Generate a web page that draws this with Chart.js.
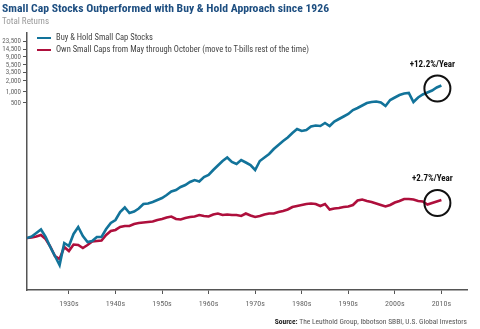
<!DOCTYPE html>
<html>
<head>
<meta charset="utf-8">
<script src="https://cdn.jsdelivr.net/npm/chart.js@4.4.1/dist/chart.umd.min.js"></script>
<style>
  body { margin: 0; width: 480px; height: 329px; position: relative; overflow: hidden; background: #fff;
         font-family: 'Liberation Sans Narrow', 'Roboto Condensed', 'Arial Narrow', 'Liberation Sans', sans-serif; }
  #wrap { position: absolute; left: 0; top: 0; width: 480px; height: 329px; }
  .title { position: absolute; left: 2px; top: 1px; font-weight: bold; font-size: 11.7px; color: #1d4e80; white-space: nowrap; }
  .subtitle { position: absolute; left: 2px; top: 16px; font-size: 9px; color: #9a9a9a; white-space: nowrap; }
  .legend { position: absolute; left: 37px; font-size: 8.5px; color: #444; white-space: nowrap; }
  .legend i { display: inline-block; width: 14px; height: 2px; vertical-align: middle; margin-right: 5px; }
  .source { position: absolute; right: 13px; top: 317px; font-size: 7.5px; color: #555; white-space: nowrap; }
  .source b { color: #222; }
</style>
</head>
<body>
<div id="wrap"><canvas id="chart"></canvas></div>
<div class="title">Small Cap Stocks Outperformed with Buy &amp; Hold Approach since 1926</div>
<div class="subtitle">Total Returns</div>
<div class="legend" id="leg1" style="top:32px"></div>
<div class="legend" id="leg2" style="top:44px"></div>
<div class="source"><b>Source:</b> The Leuthold Group, Ibbotson SBBI, U.S. Global Investors</div>
<script>
// x values as placed on the chart's decade axis
const years = [];
for (let y = 1921; y <= 2010; y++) years.push(y);

// growth of $1
const buyHold = [
  1.00, 1.10, 1.37, 1.71, 1.07, 0.567, 0.322, 0.182, 0.73, 0.604,
  1.29, 2.00, 1.13, 0.777, 0.828, 1.07, 1.07, 1.76, 2.57, 3.11,
  5.14, 6.83, 4.83, 5.31, 6.41, 8.52, 8.79, 9.66, 10.96, 12.43,
  15.0, 18.7, 20.6, 24.9, 28.2, 34.1, 38.6, 35.2, 46.7, 52.9,
  72.5, 96.3, 127.9, 159.4, 120.1, 105.9, 136.2, 116.4, 99.4, 72.5,
  127.9, 159.4, 198.7, 272, 350, 451, 562, 746, 960, 846,
  901, 1123, 1196, 1159, 1401, 1159, 1540, 1802, 2109, 2469,
  3176, 3604, 4218, 4937, 5258, 5426, 5094, 4088, 5962, 6978,
  8170, 8979, 9267, 5258, 6978, 8431, 9563, 10850, 13100, 14860
];
const mayOct = [
  1.00, 1.03, 1.10, 1.21, 0.94, 0.585, 0.322, 0.266, 0.567, 0.441,
  0.664, 0.643, 0.533, 0.643, 0.802, 0.828, 0.854, 1.21, 1.55, 1.66,
  2.00, 2.13, 2.13, 2.42, 2.57, 2.66, 2.74, 2.83, 3.11, 3.31,
  3.64, 3.87, 3.31, 3.21, 3.53, 3.75, 3.87, 4.26, 4.00, 3.87,
  4.40, 4.68, 4.26, 4.40, 4.26, 4.26, 4.00, 4.68, 4.13, 3.75,
  4.00, 4.40, 4.68, 4.68, 5.14, 5.48, 6.02, 7.05, 7.51, 8.00,
  8.52, 8.79, 8.52, 7.51, 8.52, 6.02, 6.41, 6.62, 7.05, 7.28,
  8.00, 10.62, 11.31, 10.29, 9.66, 8.79, 8.00, 7.28, 8.00, 9.36,
  10.29, 11.67, 11.67, 11.31, 10.29, 9.97, 8.25, 9.07, 9.97, 10.96
];

const seriesNames = ['Buy & Hold Small Cap Stocks', 'Own Small Caps from May through October (move to T-bills rest of the time)'];
const seriesColors = ['#12739a', '#ae0f3c'];
const endLabels = ['+12.2%/Year', '+2.7%/Year'];

const yTickValues = [23500, 14500, 9000, 5500, 3500, 2000, 1000, 500];
const decadeTicks = [1930, 1940, 1950, 1960, 1970, 1980, 1990, 2000, 2010];

const FONT = "'Liberation Sans Narrow', 'Roboto Condensed', 'Arial Narrow', 'Liberation Sans', sans-serif";

['leg1', 'leg2'].forEach((id, i) => {
  document.getElementById(id).innerHTML = `<i style="background:${seriesColors[i]}"></i>${seriesNames[i].replace(/&/g, '&amp;')}`;
});

// circles and growth-rate labels at the end of each line
const endMarks = {
  id: 'endMarks',
  afterDatasetsDraw(chart) {
    const ctx = chart.ctx;
    chart.data.datasets.forEach((ds, i) => {
      const pts = chart.getDatasetMeta(i).data;
      const last = pts[pts.length - 1];
      const cx = last.x - 4, cy = last.y + 3;
      ctx.save();
      ctx.beginPath();
      ctx.arc(cx, cy, 13, 0, Math.PI * 2);
      ctx.lineWidth = 2;
      ctx.strokeStyle = '#111';
      ctx.stroke();
      ctx.fillStyle = '#111';
      ctx.font = 'bold 9px ' + FONT;
      ctx.textAlign = 'center';
      ctx.textBaseline = 'middle';
      ctx.fillText(endLabels[i], cx - 5, cy - 24);
      ctx.restore();
    });
  }
};

new Chart(document.getElementById('chart').getContext('2d'), {
  type: 'line',
  data: {
    labels: years,
    datasets: [
      { label: seriesNames[0], data: years.map((y, i) => ({ x: y, y: buyHold[i] })), borderColor: seriesColors[0], borderWidth: 2.6, pointRadius: 0, tension: 0, yAxisID: 'y' },
      { label: seriesNames[1], data: years.map((y, i) => ({ x: y, y: mayOct[i] })), borderColor: seriesColors[1], borderWidth: 2.6, pointRadius: 0, tension: 0, yAxisID: 'y' }
    ]
  },
  options: {
    responsive: true, maintainAspectRatio: false, animation: false,
    layout: { padding: { left: 0, right: 13, top: 33, bottom: 0 } },
    plugins: { legend: { display: false }, tooltip: { enabled: false } },
    scales: {
      x: {
        type: 'linear', min: 1921, max: 2015.5,
        afterBuildTicks: s => { s.ticks = decadeTicks.map(v => ({ value: v })); },
        afterFit: s => { s.height = 39; },
        grid: { drawOnChartArea: false, drawTicks: true, tickLength: 4, color: '#555', lineWidth: 1 },
        border: { color: '#555', width: 1.5 },
        ticks: { color: '#666', font: { family: FONT, size: 8 }, padding: 5, maxRotation: 0, autoSkip: false, callback: v => v + 's' }
      },
      y: {
        type: 'logarithmic', display: false, min: 0.0378, max: 406000
      },
      yLabels: {
        type: 'logarithmic', position: 'left', min: 0.00396, max: 40600,
        afterBuildTicks: s => { s.ticks = yTickValues.map(v => ({ value: v })); },
        afterFit: s => { s.width = 27; },
        grid: { drawOnChartArea: false, drawTicks: true, tickLength: 4, color: '#555', lineWidth: 1 },
        border: { color: '#555', width: 1.5 },
        ticks: { color: '#666', font: { family: FONT, size: 7 }, padding: 2, autoSkip: false, callback: v => v.toLocaleString('en-US') }
      }
    }
  },
  plugins: [endMarks]
});
</script>
</body>
</html>
